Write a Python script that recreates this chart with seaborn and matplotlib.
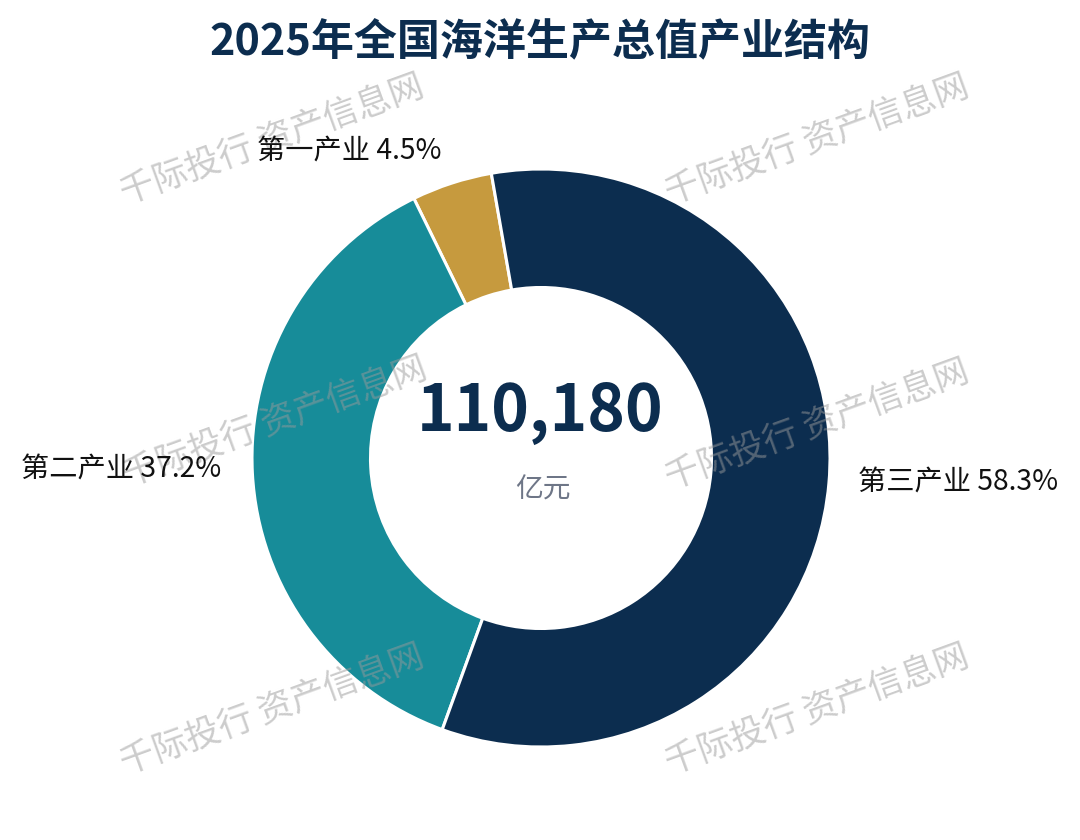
import numpy as np
import pandas as pd
import seaborn as sns
import matplotlib
matplotlib.use("Agg")
import matplotlib.pyplot as plt

# ---- data ----
industries = ["第一产业", "第二产业", "第三产业"]
shares = [4.5, 37.2, 58.3]
colors = ["#C69A3E", "#178C99", "#0C2D4F"]
total_value = "110,180"
total_unit = "亿元"
title = "2025年全国海洋生产总值产业结构"
watermark = "千际投行 资产信息网"

df = pd.DataFrame({"industry": industries, "share": shares})

sns.set_theme(style="white")
plt.rcParams["font.family"] = ["Noto Sans CJK SC", "DejaVu Sans"]

W, H = 1080, 840
fig = plt.figure(figsize=(W / 100, H / 100), dpi=100)
fig.patch.set_facecolor("white")
ax = fig.add_axes([0, 0, 1, 1])

# pixel geometry of the donut
cx, cy, R = 541, 458, 289


def P(px, py):
    return (px - cx) / R, (cy - py) / R


wedges, _ = ax.pie(
    df["share"], colors=colors, startangle=99.9, counterclock=True,
    radius=1.0, wedgeprops=dict(width=0.41, edgecolor="white", linewidth=2.2),
)
for w in wedges:
    w.set_zorder(1)

ax.set_xlim(-cx / R, (W - cx) / R)
ax.set_ylim(-(H - cy) / R, cy / R)
ax.set_aspect("equal", adjustable="box")
ax.axis("off")

# watermarks
for (px, py) in [(272, 140), (817, 140), (275, 422), (817, 425), (272, 710), (817, 710)]:
    x, y = P(px, py)
    ax.text(x, y, watermark, fontsize=25, color="#9a9a9a", alpha=0.5,
            rotation=20, ha="center", va="center", zorder=3)

# labels
label_pos = {"第一产业": (349, 152), "第二产业": (121, 470), "第三产业": (958, 483)}
for name, s in zip(df["industry"], df["share"]):
    x, y = P(*label_pos[name])
    ax.text(x, y, f"{name} {s}%", fontsize=20.3, color="#111111",
            ha="center", va="center", zorder=5)

# center text
x, y = P(540, 412)
ax.text(x, y, total_value, fontsize=46, fontweight="bold", color="#0C2D4F",
        ha="center", va="center", zorder=5)
x, y = P(543, 490)
ax.text(x, y, total_unit, fontsize=20, color="#6E7687",
        ha="center", va="center", zorder=5)

# title
fig.text(0.5, 1 - 42 / H, title, fontsize=31, fontweight="heavy", color="#0C2D4F",
         ha="center", va="center")

fig.savefig("out.png", dpi=100, facecolor="white")
